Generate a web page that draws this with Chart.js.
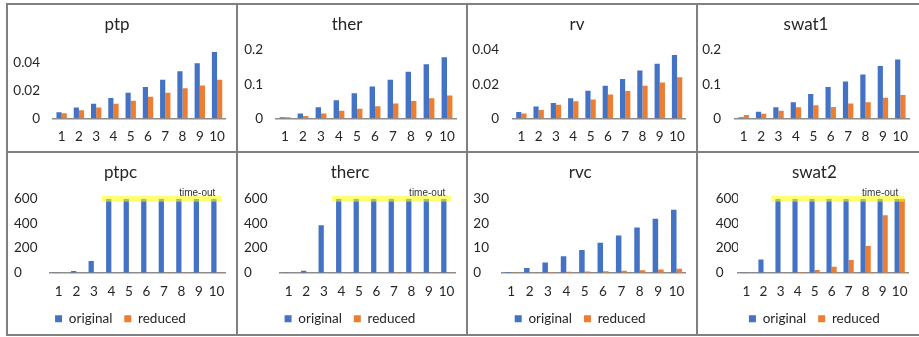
<!DOCTYPE html>
<html>
<head>
<meta charset="utf-8">
<script src="https://cdn.jsdelivr.net/npm/chart.js@4.4.1/dist/chart.umd.min.js"></script>
<style>
  body { margin: 0; background: #fff; }
  #wrap { position: relative; width: 919px; height: 337px; overflow: hidden; }
  canvas { position: absolute; }
  .ln { position: absolute; background: #808080; z-index: 2; }
</style>
</head>
<body>
<div id="wrap">
  <canvas id="c_ptp" width="228" height="146" style="left:8px;top:5px"></canvas>
  <canvas id="c_ther" width="228" height="146" style="left:238px;top:5px"></canvas>
  <canvas id="c_rv" width="228" height="146" style="left:468px;top:5px"></canvas>
  <canvas id="c_swat1" width="221" height="146" style="left:698px;top:5px"></canvas>
  <canvas id="c_ptpc" width="228" height="183" style="left:8px;top:153px"></canvas>
  <canvas id="c_therc" width="228" height="183" style="left:238px;top:153px"></canvas>
  <canvas id="c_rvc" width="228" height="183" style="left:468px;top:153px"></canvas>
  <canvas id="c_swat2" width="221" height="183" style="left:698px;top:153px"></canvas>

  <!-- rejilla de la tabla -->
  <div class="ln" style="left:6px;top:3px;width:913px;height:2px"></div>
  <div class="ln" style="left:6px;top:151px;width:913px;height:2px"></div>
  <div class="ln" style="left:6px;top:334px;width:913px;height:2px"></div>
  <div class="ln" style="left:6px;top:3px;width:2px;height:333px"></div>
  <div class="ln" style="left:236px;top:3px;width:2px;height:333px"></div>
  <div class="ln" style="left:466px;top:3px;width:2px;height:333px"></div>
  <div class="ln" style="left:696px;top:3px;width:2px;height:333px"></div>
</div>
<script>
// datos
const categories = ['1', '2', '3', '4', '5', '6', '7', '8', '9', '10'];
const seriesNames = ['original', 'reduced'];

const ptpOriginal = [0.0044, 0.0078, 0.0104, 0.0145, 0.0184, 0.0225, 0.0276, 0.0337, 0.0395, 0.0475];
const ptpReduced  = [0.0036, 0.0058, 0.0078, 0.0104, 0.0126, 0.0155, 0.0184, 0.0216, 0.0235, 0.0276];
const ptpTicks = [0, 0.02, 0.04];

const therOriginal = [0.003, 0.014, 0.032, 0.053, 0.073, 0.093, 0.113, 0.136, 0.158, 0.179];
const therReduced  = [0.003, 0.007, 0.014, 0.022, 0.028, 0.035, 0.043, 0.051, 0.059, 0.067];
const therTicks = [0, 0.1, 0.2];

const rvOriginal = [0.0037, 0.0069, 0.0089, 0.0118, 0.0162, 0.019, 0.023, 0.028, 0.032, 0.037];
const rvReduced  = [0.0028, 0.0049, 0.0079, 0.010, 0.011, 0.014, 0.016, 0.019, 0.021, 0.024];
const rvTicks = [0, 0.02, 0.04];

const swat1Original = [0.003, 0.019, 0.032, 0.047, 0.071, 0.092, 0.108, 0.128, 0.153, 0.172];
const swat1Reduced  = [0.010, 0.013, 0.022, 0.032, 0.038, 0.033, 0.043, 0.047, 0.060, 0.068];
const swat1Ticks = [0, 0.1, 0.2];

const ptpcOriginal = [1, 13, 95, 600, 600, 600, 600, 600, 600, 600];
const ptpcReduced  = [0.1, 0.1, 0.2, 0.3, 0.4, 0.5, 0.7, 0.9, 1.2, 1.5];
const ptpcTicks = [0, 200, 400, 600];

const thercOriginal = [1, 16, 384, 600, 600, 600, 600, 600, 600, 600];
const thercReduced  = [0.1, 0.1, 0.2, 0.3, 0.4, 0.5, 0.7, 0.9, 1.2, 1.5];
const thercTicks = [0, 200, 400, 600];

const rvcOriginal = [0.3, 1.9, 4.1, 6.7, 9.2, 12.1, 15.1, 18.3, 21.9, 25.5];
const rvcReduced  = [0.05, 0.1, 0.2, 0.4, 0.5, 0.6, 0.8, 1.0, 1.3, 1.6];
const rvcTicks = [0, 10, 20, 30];

const swat2Original = [1, 108, 600, 600, 600, 600, 600, 600, 600, 600];
const swat2Reduced  = [0, 0.5, 1.5, 6, 22, 48, 102, 216, 465, 600];
const swat2Ticks = [0, 200, 400, 600];

const timeoutLabel = 'time-out';
const timeoutValue = 600;

const BLUE = '#4472C4';
const ORANGE = '#ED7D31';
const TXT = '#262626';
const FONT = 'Lato, "Noto Sans", sans-serif';

// franja amarilla de time-out
const timeoutBand = {
	id: 'timeoutBand',
	afterDatasetsDraw(chart, args, opts) {
		if (opts.from == null) return;
		const x = chart.scales.x, y = chart.scales.y, ctx = chart.ctx;
		const step = x.getPixelForValue(1) - x.getPixelForValue(0);
		const left = x.getPixelForValue(opts.from) - step * 0.55;
		const right = chart.chartArea.right - 4;
		const yy = y.getPixelForValue(timeoutValue);
		ctx.save();
		ctx.fillStyle = 'rgba(255,255,0,0.55)';
		ctx.fillRect(left, yy - 3, right - left, 6);
		ctx.font = '10px "Liberation Sans", Arial, sans-serif';
		ctx.fillStyle = '#333';
		ctx.textAlign = 'right';
		ctx.fillText(timeoutLabel, right - 6, yy - 5.5);
		ctx.restore();
	}
};

function makeChart(id, title, original, reduced, tickVals, o) {
	const bottomRow = !!o.legend;
	return new Chart(document.getElementById(id), {
		type: 'bar',
		data: {
			labels: categories,
			datasets: [
				{ label: seriesNames[0], data: original, backgroundColor: BLUE },
				{ label: seriesNames[1], data: reduced, backgroundColor: ORANGE }
			]
		},
		plugins: [timeoutBand],
		options: {
			responsive: false,
			animation: false,
			devicePixelRatio: 1,
			categoryPercentage: 0.6,
			barPercentage: 1.0,
			layout: { padding: { left: o.padL, right: o.padR, top: 0, bottom: bottomRow ? 0.5 : 0 } },
			plugins: {
				title: {
					display: true,
					text: title,
					color: TXT,
					font: { family: FONT, size: 17, weight: 'normal' },
					padding: { top: 9.8, bottom: bottomRow ? 15.5 : 14.8 }
				},
				legend: {
					display: bottomRow,
					position: 'bottom',
					labels: {
						boxWidth: 7, boxHeight: 7, padding: 12, color: TXT,
						font: { family: FONT, size: 13.5 }
					}
				},
				tooltip: { enabled: false },
				timeoutBand: { from: o.timeoutFrom }
			},
			scales: {
				x: {
					grid: { display: false, drawTicks: false },
					border: { display: true, color: '#8c8c8c', width: 1.5 },
					ticks: { color: TXT, font: { family: FONT, size: 13.5 }, padding: bottomRow ? 11.2 : 10.6, maxRotation: 0, autoSkip: false },
					afterFit(s) { s.height = bottomRow ? 27.3 : 32.7; }
				},
				y: {
					min: 0,
					max: o.max,
					grid: { display: false, drawTicks: false },
					border: { display: false },
					ticks: {
						color: TXT,
						font: { family: FONT, size: 13.5 },
						padding: o.yPad || 0,
						autoSkip: false,
						crossAlign: bottomRow ? 'far' : 'near',
						callback: v => String(v)
					},
					afterBuildTicks(s) { s.ticks = tickVals.map(v => ({ value: v })); },
					afterFit(s) { s.width = o.yWidth; }
				}
			}
		}
	});
}

makeChart('c_ptp', 'ptp', ptpOriginal, ptpReduced, ptpTicks, { max: 0.049, padL: 0, padR: 10, yWidth: 45, yPad: 13 });
makeChart('c_ther', 'ther', therOriginal, therReduced, therTicks, { max: 0.2, padL: 0, padR: 10, yWidth: 38, yPad: 13 });
makeChart('c_rv', 'rv', rvOriginal, rvReduced, rvTicks, { max: 0.04, padL: 0, padR: 10, yWidth: 44.7, yPad: 13.7 });
makeChart('c_swat1', 'swat1', swat1Original, swat1Reduced, swat1Ticks, { max: 0.2, padL: 0, padR: 5, yWidth: 37, yPad: 14 });

makeChart('c_ptpc', 'ptpc', ptpcOriginal, ptpcReduced, ptpcTicks, { max: 600, padL: 6, padR: 9, yWidth: 36, legend: true, timeoutFrom: 3 });
makeChart('c_therc', 'therc', thercOriginal, thercReduced, thercTicks, { max: 600, padL: 6, padR: 10, yWidth: 36, legend: true, timeoutFrom: 3 });
makeChart('c_rvc', 'rvc', rvcOriginal, rvcReduced, rvcTicks, { max: 30, padL: 5.3, padR: 9, yWidth: 28.7, legend: true, timeoutFrom: null });
makeChart('c_swat2', 'swat2', swat2Original, swat2Reduced, swat2Ticks, { max: 600, padL: 17.7, padR: 6, yWidth: 22.3, legend: true, timeoutFrom: 2 });
</script>
</body>
</html>
